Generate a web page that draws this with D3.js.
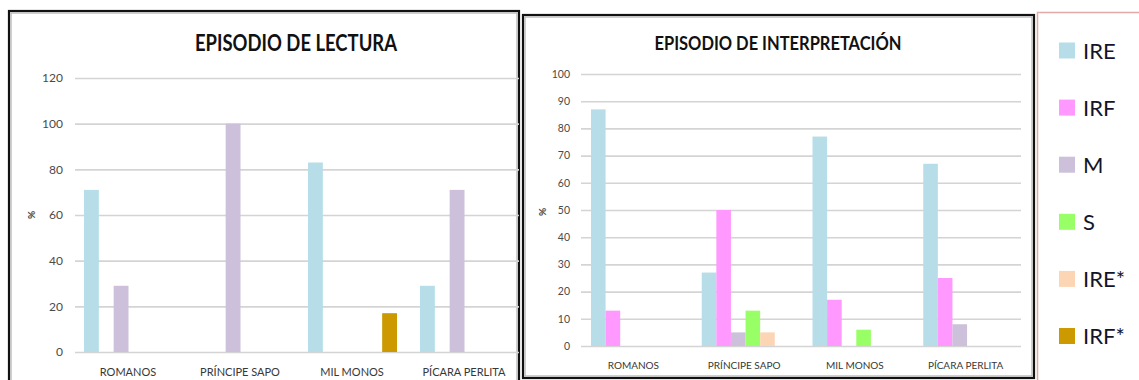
<!DOCTYPE html>
<html>
<head>
<meta charset="utf-8">
<script src="https://cdn.jsdelivr.net/npm/d3@7"></script>
<style>
  html, body { margin: 0; padding: 0; background: #fff; }
  svg { display: block; font-family: Lato, "Open Sans", sans-serif; }
</style>
</head>
<body>
<svg id="chart" width="1139" height="380"></svg>
<script>
// Categories and series shared by both panels
const categories = ["ROMANOS", "PRÍNCIPE SAPO", "MIL MONOS", "PÍCARA PERLITA"];
const seriesNames = ["IRE", "IRF", "M", "S", "IRE*", "IRF*"];
const seriesColors = ["#b7dee8", "#ff99ff", "#ccc0da", "#99ff66", "#fcd5b4", "#cc9900"];

// Episodio de lectura (%), one array per series
const lecturaIRE     = [71, 0, 83, 29];
const lecturaIRF     = [0, 0, 0, 0];
const lecturaM       = [29, 100, 0, 71];
const lecturaS       = [0, 0, 0, 0];
const lecturaIREstar = [0, 0, 0, 0];
const lecturaIRFstar = [0, 0, 17, 0];

// Episodio de interpretación (%), one array per series
const interpIRE     = [87, 27, 77, 67];
const interpIRF     = [13, 50, 17, 25];
const interpM       = [0, 5, 0, 8];
const interpS       = [0, 13, 6, 0];
const interpIREstar = [0, 5, 0, 0];
const interpIRFstar = [0, 0, 0, 0];

// Axis tick labels
const lecturaTicks = [0, 20, 40, 60, 80, 100, 120];
const interpTicks  = [0, 10, 20, 30, 40, 50, 60, 70, 80, 90, 100];

const svg = d3.select("#chart");

function drawPanel(cfg) {
  const g = svg.append("g");

  // outer frame
  g.append("rect")
    .attr("x", cfg.frame[0]).attr("y", cfg.frame[1])
    .attr("width", cfg.frame[2]).attr("height", cfg.frame[3])
    .attr("fill", "#fff").attr("stroke", "#111").attr("stroke-width", 2.2);
  g.append("rect")
    .attr("x", cfg.frame[0] + 2).attr("y", cfg.frame[1] + 2)
    .attr("width", cfg.frame[2] - 4).attr("height", cfg.frame[3] - 4)
    .attr("fill", "none").attr("stroke", "#b0b0b0").attr("stroke-width", 1.2);

  // title
  g.append("text")
    .attr("x", cfg.titleX).attr("y", cfg.titleY)
    .attr("text-anchor", "middle")
    .attr("font-weight", "bold")
    .attr("font-size", cfg.titleSize)
    .attr("fill", "#111")
    .attr("textLength", cfg.titleLen)
    .attr("lengthAdjust", "spacingAndGlyphs")
    .text(cfg.title);

  const y = d3.scaleLinear().domain([0, cfg.ticks[cfg.ticks.length - 1]])
    .range([cfg.plot.bottom, cfg.plot.top]);
  const x0 = d3.scaleBand().domain(categories)
    .range([cfg.plot.left, cfg.plot.right]).padding(0);
  const x1 = d3.scaleBand().domain(seriesNames)
    .range([cfg.inner[0], cfg.inner[1]]).padding(0);

  // gridlines + tick labels through a d3 axis
  const axis = d3.axisLeft(y).tickValues(cfg.ticks)
    .tickSize(-(cfg.gridRight - cfg.plot.left)).tickPadding(cfg.tickPad);
  const ax = g.append("g")
    .attr("transform", `translate(${cfg.plot.left},0)`)
    .call(axis);
  ax.select(".domain").remove();
  ax.selectAll(".tick line")
    .attr("stroke", "#d4d4d4").attr("stroke-width", 1.6)
    .attr("x1", 3);
  ax.selectAll(".tick text")
    .attr("fill", "#4a4a4a").attr("font-size", cfg.tickSize)
    .attr("font-family", "Lato, sans-serif");

  // y-axis title
  g.append("text")
    .attr("transform", `translate(${cfg.pctX},${cfg.pctY}) rotate(-90)`)
    .attr("text-anchor", "middle")
    .attr("font-size", 10).attr("font-weight", "bold")
    .attr("fill", "#444")
    .text("%");

  // bars
  const rows = categories.map((c, i) => ({
    cat: c,
    vals: seriesNames.map((s, j) => ({ s, j, v: cfg.values[j][i] }))
  }));
  const grp = g.append("g").selectAll("g").data(rows).join("g")
    .attr("transform", d => `translate(${x0(d.cat)},0)`);
  grp.selectAll("rect").data(d => d.vals.filter(e => e.v > 0)).join("rect")
    .attr("x", d => x1(d.s))
    .attr("width", x1.bandwidth())
    .attr("y", d => y(d.v))
    .attr("height", d => y(0) - y(d.v))
    .attr("fill", d => seriesColors[d.j]);

  // category labels
  g.append("g").selectAll("text").data(categories).join("text")
    .attr("x", d => x0(d) + x0.bandwidth() / 2)
    .attr("y", cfg.catY)
    .attr("text-anchor", "middle")
    .attr("font-size", cfg.catSize)
    .attr("fill", "#383838")
    .text(d => d);
}

drawPanel({
  frame: [9, 11, 510, 380],
  title: "EPISODIO DE LECTURA",
  titleX: 296, titleY: 51, titleSize: 22, titleLen: 202,
  ticks: lecturaTicks,
  plot: { left: 72, right: 520, top: 78, bottom: 352 },
  gridRight: 519,
  inner: [12, 101],
  tickPad: 9, tickSize: 12,
  pctX: 35, pctY: 215,
  catY: 376, catSize: 11,
  values: [lecturaIRE, lecturaIRF, lecturaM, lecturaS, lecturaIREstar, lecturaIRFstar]
});

drawPanel({
  frame: [523, 15, 511, 363],
  title: "EPISODIO DE INTERPRETACIÓN",
  titleX: 778, titleY: 50, titleSize: 19, titleLen: 247,
  ticks: interpTicks,
  plot: { left: 578, right: 1021, top: 74, bottom: 346 },
  gridRight: 1021,
  inner: [13, 100.6],
  tickPad: 8, tickSize: 10.5,
  pctX: 546, pctY: 212,
  catY: 369, catSize: 10,
  values: [interpIRE, interpIRF, interpM, interpS, interpIREstar, interpIRFstar]
});

// legend
const legend = svg.append("g");
legend.append("rect")
  .attr("x", 1037.5).attr("y", 12.5).attr("width", 120).attr("height", 380)
  .attr("fill", "#fff").attr("stroke", "#e3a9a9").attr("stroke-width", 1.5);
const ly = d3.scalePoint().domain(seriesNames).range([50.5, 336]);
const li = legend.selectAll("g").data(seriesNames).join("g")
  .attr("transform", d => `translate(1059,${ly(d)})`);
li.append("rect")
  .attr("x", 0).attr("y", -8).attr("width", 16).attr("height", 16)
  .attr("fill", (d, i) => seriesColors[i]);
li.append("text")
  .attr("x", 24).attr("y", 8)
  .attr("font-size", 22)
  .attr("fill", "#141428")
  .text(d => d);
</script>
</body>
</html>
